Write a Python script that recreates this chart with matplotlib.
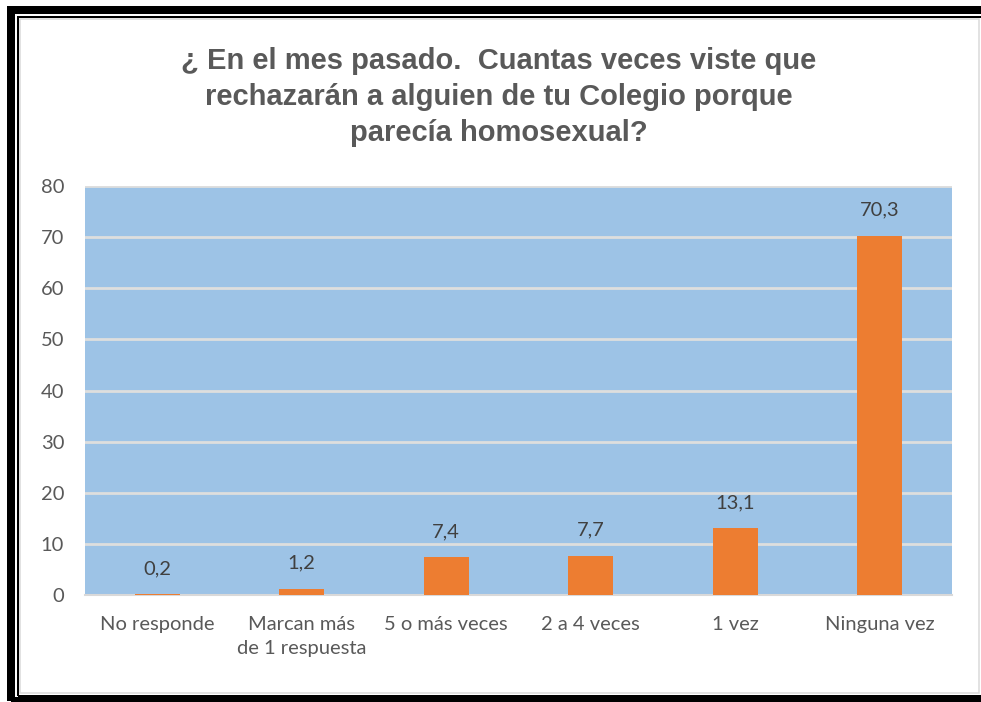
# Bar chart: rechazo por parecer homosexual

import matplotlib.pyplot as plt
from matplotlib.patches import Rectangle

categories = ['No responde', 'Marcan más\nde 1 respuesta', '5 o más veces',
              '2 a 4 veces', '1 vez', 'Ninguna vez']
values = [0.2, 1.2, 7.4, 7.7, 13.1, 70.3]
labels = ['0,2', '1,2', '7,4', '7,7', '13,1', '70,3']
yticks = [0, 10, 20, 30, 40, 50, 60, 70, 80]

W, H = 981, 702
fig = plt.figure(figsize=(W / 100, H / 100), dpi=100)
fig.patch.set_facecolor('white')


def px_rect(x0, y0, x1, y1, lw, color):
    # rectangle given in pixel coords (origin top-left)
    r = Rectangle((x0 / W, 1 - y1 / H), (x1 - x0) / W, (y1 - y0) / H,
                  transform=fig.transFigure, fill=False, edgecolor=color,
                  linewidth=lw * 0.72, zorder=10)
    fig.add_artist(r)


# frame around the chart
px_rect(11, 10, 995, 701, 8, 'black')
px_rect(18, 17, 990, 696, 2, 'black')
px_rect(20, 19, 979, 693, 1.5, '#d9d9d9')

ax = fig.add_axes([85 / W, 1 - 595 / H, (952 - 85) / W, (595 - 186) / H])
ax.set_facecolor('#9dc3e6')

x = range(len(categories))
ax.bar(x, values, width=0.31, color='#ed7d31', zorder=3)
for xi, v, lab in zip(x, values, labels):
    ax.text(xi, v + 5.0, lab, ha='center', va='center', fontsize=14.5,
            color='#404040', family='Lato')

ax.set_ylim(0, 80)
ax.set_xlim(-0.5, len(categories) - 0.5)
ax.set_yticks(yticks)
ax.set_yticklabels([str(t) for t in yticks], fontsize=14.5, color='#595959',
                   family='Lato')
ax.set_xticks(list(x))
ax.set_xticklabels(categories, fontsize=14.5, color='#595959', family='Lato',
                   linespacing=1.5, va='top')
ax.tick_params(length=0)
ax.tick_params(axis='x', pad=15)
ax.tick_params(axis='y', pad=15)

ax.grid(axis='y', color='#dedede', linewidth=2, zorder=1)
ax.set_axisbelow(True)
for s in ['left', 'right', 'top']:
    ax.spines[s].set_visible(False)
ax.spines['bottom'].set_color('#d9d9d9')
ax.spines['bottom'].set_linewidth(1.5)

fig.text(499 / W, 1 - 97 / H,
         '¿ En el mes pasado.  Cuantas veces viste que\n'
         'rechazarán a alguien de tu Colegio porque\n'
         'parecía homosexual?',
         ha='center', va='center', fontsize=21, fontweight='bold',
         color='#595959', family='Liberation Sans', linespacing=1.38)

fig.savefig('out.png', dpi=100)
